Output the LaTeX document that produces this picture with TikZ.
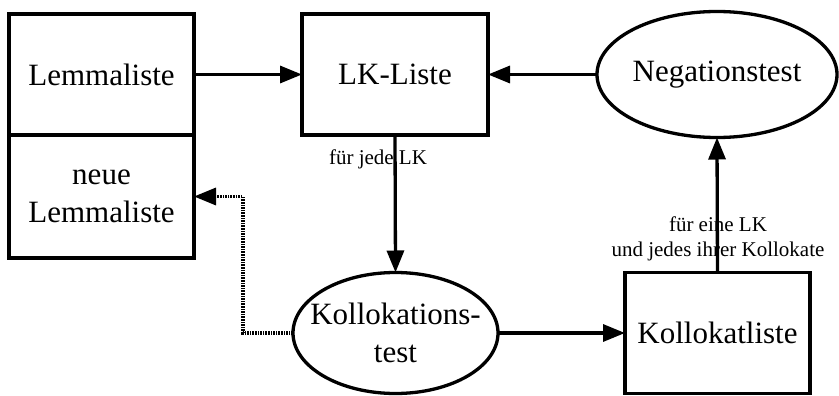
\documentclass[tikz,border=0pt]{standalone}
\usepackage{fontspec}
\setmainfont{Liberation Serif}
\usetikzlibrary{shapes.geometric,arrows.meta}

\tikzset{
  box/.style={draw, line width=3.3pt, rectangle, inner sep=0pt, outer sep=0pt,
    align=center, font=\fontsize{31}{38}\selectfont},
  oval/.style={draw, line width=3.3pt, ellipse, inner sep=0pt, outer sep=0pt},
  bigtext/.style={align=center, inner sep=0pt, font=\fontsize{31}{38}\selectfont},
  smalltext/.style={align=center, inner sep=0pt, font=\fontsize{21}{25}\selectfont},
  flow/.style={line width=3.3pt, -{Triangle[length=22pt,width=17pt]}},
  backflow/.style={line width=3.3pt, dash pattern=on 1.6pt off 1pt,
    -{Triangle[length=22pt,width=17pt]}}
}

\begin{document}
\begin{tikzpicture}[x=1pt,y=-1pt]
  \useasboundingbox (0,0) rectangle (839,396);

  % list boxes
  \node[box, minimum width=185pt, minimum height=121pt] (lemma) at (101.5,74.5) {Lemmaliste};
  \node[box, minimum width=185pt, minimum height=123pt] (neue) at (101.5,196.5) {neue\\Lemmaliste};
  \node[box, minimum width=186pt, minimum height=121pt] (lk) at (395,74.5) {LK-Liste};
  \node[box, minimum width=185pt, minimum height=121pt] (koll) at (717.5,333) {Kollokatliste};

  % test ellipses
  \node[oval, minimum width=240pt, minimum height=126pt] (neg) at (717,74.5) {};
  \node[bigtext] (negtext) at (neg.center) {Negationstest};
  \node[oval, minimum width=205pt, minimum height=121pt] (kt) at (395.5,333) {};
  \node[bigtext] (kttext) at (kt.center) {Kollokations-\\test};

  % connectors
  \draw[flow] (lemma.east) -- (lk.west);
  \draw[flow] (neg.west) -- (lk.east);
  \draw[flow] (lk.south) -- (kt.north);
  \draw[flow] (kt.east) -- (koll.west);
  \draw[flow] (koll.north) -- (neg.south);

  \coordinate (bend) at (243,333);
  \draw[backflow] (kt.west) -- (bend) |- (neue.east);

  % edge labels
  \node[smalltext] (lbl1) at (378,159) {für jede LK};
  \node[smalltext] (lbl2) at (718,239) {für eine LK\\und jedes ihrer Kollokate};
\end{tikzpicture}
\end{document}
